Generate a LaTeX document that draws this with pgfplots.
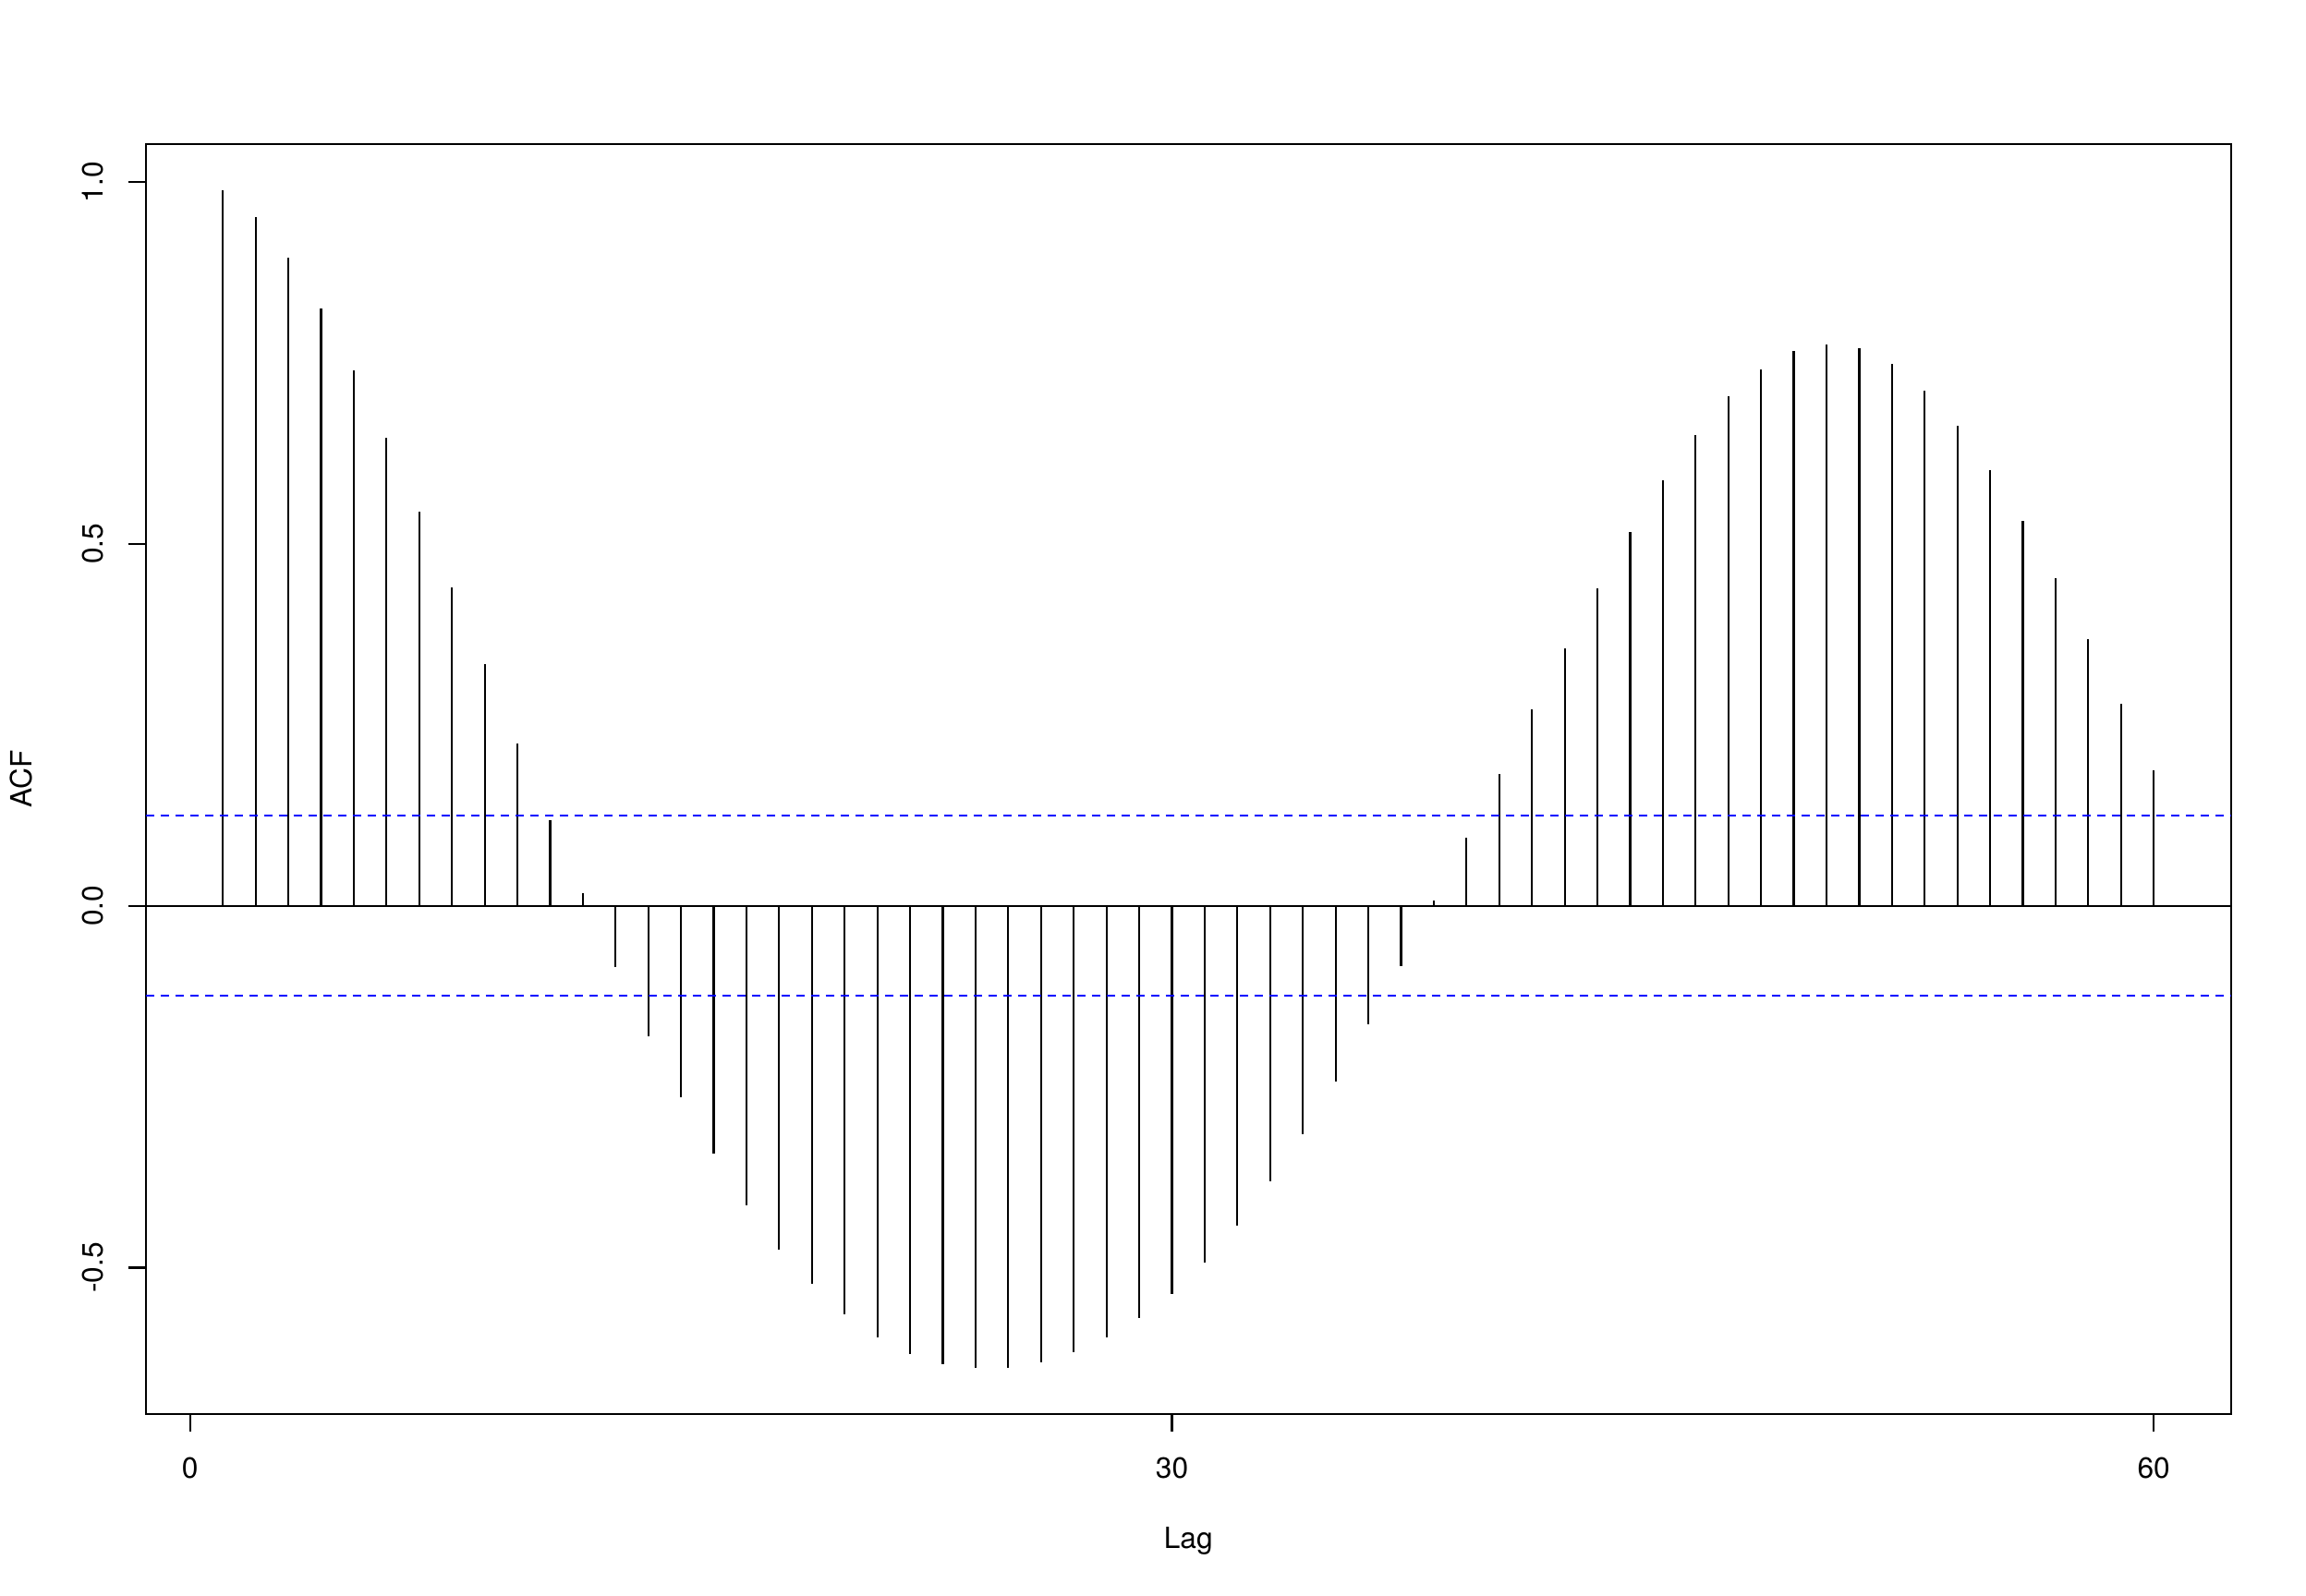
\documentclass[border=0pt]{standalone}
\usepackage{fontspec}
\setmainfont{TeX Gyre Heros}
\usepackage{pgfplots}
\pgfplotsset{compat=1.18}
\usepackage{pgfplotstable}
\pgfplotstableread{
lag acf
1 0.988
2 0.951
3 0.896
4 0.825
5 0.740
6 0.647
7 0.545
8 0.440
9 0.334
10 0.224
11 0.118
12 0.017
13 -0.085
14 -0.180
15 -0.265
16 -0.343
17 -0.414
18 -0.475
19 -0.523
20 -0.564
21 -0.597
22 -0.619
23 -0.633
24 -0.639
25 -0.639
26 -0.631
27 -0.617
28 -0.597
29 -0.570
30 -0.536
31 -0.493
32 -0.442
33 -0.381
34 -0.316
35 -0.243
36 -0.164
37 -0.083
38 0.007
39 0.094
40 0.182
41 0.271
42 0.356
43 0.439
44 0.517
45 0.588
46 0.651
47 0.704
48 0.741
49 0.766
50 0.776
51 0.770
52 0.748
53 0.711
54 0.663
55 0.602
56 0.532
57 0.453
58 0.368
59 0.279
60 0.187
}\acftable
\begin{document}
\begin{tikzpicture}
\begin{axis}[
  at={(47.28pt,59.1pt)}, anchor=south west,
  scale only axis, width=677.16pt, height=412.6pt,
  xmin=-1.36, xmax=62.36, ymin=-0.7023, ymax=1.0528,
  xtick={0,30,60}, xticklabels={0,30,60},
  ytick={-0.5,0,0.5,1}, yticklabels={-0.5,0.0,0.5,1.0},
  xtick pos=bottom, ytick pos=left,
  tick align=outside, major tick length=5.7pt,
  minor tick num=0,
  axis line style={black, line width=0.65pt},
  tick style={black, line width=0.65pt},
  font=\fontsize{9.5}{11.4}\selectfont,
  /pgf/number format/assume math mode=true,
  xticklabel style={anchor=base},
  xticklabel shift=15.2pt,
  yticklabel style={rotate=90, anchor=base},
  yticklabel shift=8pt,
  xlabel={Lag}, ylabel={ACF},
  xlabel style={at={(axis description cs:0.5,-0.1059)}, anchor=base},
  ylabel style={at={(axis description cs:-0.0545,0.5)}, anchor=base},
  clip=true,
]
\addplot[ycomb, black, line width=0.65pt] table[x=lag, y=acf] {\acftable};
\addplot[black, line width=0.65pt] coordinates {(-1.36,0) (62.36,0)};
\addplot[blue, line width=0.65pt, dash pattern=on 2.8pt off 2pt] coordinates {(-1.36,0.1242) (62.36,0.1242)};
\addplot[blue, line width=0.65pt, dash pattern=on 2.8pt off 2pt] coordinates {(-1.36,-0.1242) (62.36,-0.1242)};
\end{axis}
\pgfresetboundingbox
\path[use as bounding box] (0,0) rectangle (748.8pt,518.4pt);
\end{tikzpicture}
\end{document}
